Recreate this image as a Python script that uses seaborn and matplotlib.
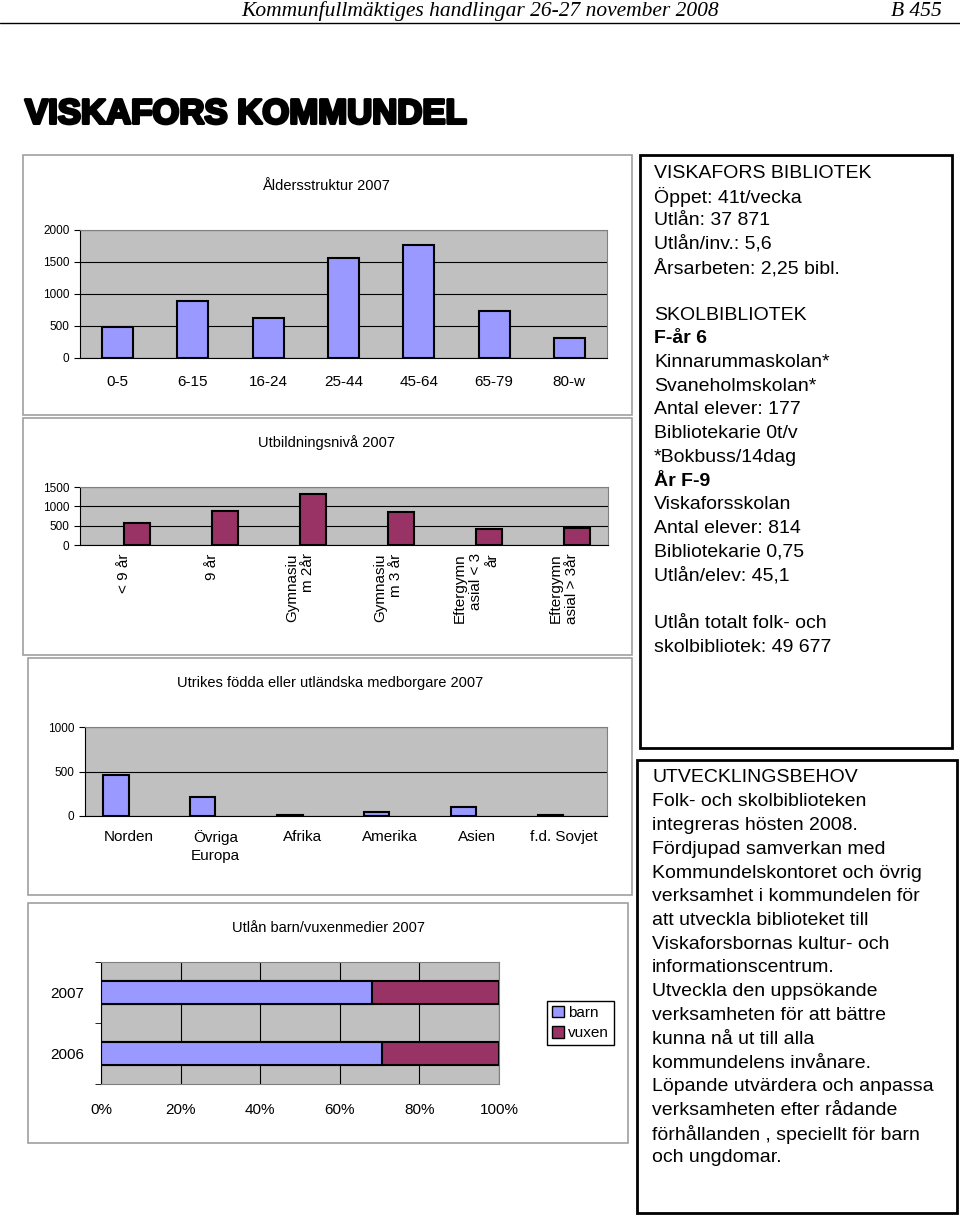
import numpy as np
import pandas as pd
import matplotlib
matplotlib.use("Agg")
import matplotlib.pyplot as plt
import matplotlib.patheffects as pe
from matplotlib.patches import Rectangle, Patch
from matplotlib.lines import Line2D
from matplotlib.ticker import PercentFormatter
import seaborn as sns

# ---- data ----
age_groups = ["0-5", "6-15", "16-24", "25-44", "45-64", "65-79", "80-w"]
age_counts = [480, 890, 630, 1560, 1770, 730, 310]

edu_levels = ["< 9 år", "9 år", "Gymnasiu\nm 2år", "Gymnasiu\nm 3 år",
              "Eftergymn\nasial < 3\når", "Eftergymn\nasial > 3år"]
edu_counts = [575, 875, 1325, 845, 425, 440]

origin_regions = ["Norden", "Övriga\nEuropa", "Afrika", "Amerika", "Asien", "f.d. Sovjet"]
origin_counts = [465, 210, 12, 40, 105, 12]

loan_years = ["2007", "2006"]
loan_barn = [68, 70.5]
loan_vuxen = [32, 29.5]

bibliotek_lines = [
    ("VISKAFORS BIBLIOTEK", "medium"),
    ("Öppet: 41t/vecka", "normal"),
    ("Utlån: 37 871", "normal"),
    ("Utlån/inv.: 5,6", "normal"),
    ("Årsarbeten: 2,25 bibl.", "normal"),
    ("", "normal"),
    ("SKOLBIBLIOTEK", "medium"),
    ("F-år 6", "bold"),
    ("Kinnarummaskolan*", "normal"),
    ("Svaneholmskolan*", "normal"),
    ("Antal elever: 177", "normal"),
    ("Bibliotekarie 0t/v", "normal"),
    ("*Bokbuss/14dag", "normal"),
    ("År F-9", "bold"),
    ("Viskaforsskolan", "normal"),
    ("Antal elever: 814", "normal"),
    ("Bibliotekarie 0,75", "normal"),
    ("Utlån/elev: 45,1", "normal"),
    ("", "normal"),
    ("Utlån totalt folk- och", "normal"),
    ("skolbibliotek: 49 677", "normal"),
]

behov_lines = [
    ("UTVECKLINGSBEHOV", "medium"),
    ("Folk- och skolbiblioteken", "normal"),
    ("integreras hösten 2008.", "normal"),
    ("Fördjupad samverkan med", "normal"),
    ("Kommundelskontoret och övrig", "normal"),
    ("verksamhet i kommundelen för", "normal"),
    ("att utveckla biblioteket till", "normal"),
    ("Viskaforsbornas kultur- och", "normal"),
    ("informationscentrum.", "normal"),
    ("Utveckla den uppsökande", "normal"),
    ("verksamheten för att bättre", "normal"),
    ("kunna nå ut till alla", "normal"),
    ("kommundelens invånare.", "normal"),
    ("Löpande utvärdera och anpassa", "normal"),
    ("verksamheten efter rådande", "normal"),
    ("förhållanden , speciellt för barn", "normal"),
    ("och ungdomar.", "normal"),
]

BLUE = "#9999FF"
MAROON = "#993366"
GRAY = "#C0C0C0"

sns.set_style("white")
plt.rcParams['font.family'] = ['Liberation Sans', 'DejaVu Sans']
plt.rcParams['text.color'] = 'black'
plt.rcParams['axes.labelcolor'] = 'black'
plt.rcParams['xtick.color'] = 'black'
plt.rcParams['ytick.color'] = 'black'

W, H = 960, 1218
fig = plt.figure(figsize=(9.6, 12.18), dpi=100)


def fx(x):
    return x / W


def fy(y):
    return 1 - y / H


def box(x0, y0, x1, y1):
    return [fx(x0), fy(y1), (x1 - x0) / W, (y1 - y0) / H]


def frame(x0, y0, x1, y1, color, lw):
    fig.add_artist(Rectangle((fx(x0), fy(y1)), (x1 - x0) / W, (y1 - y0) / H,
                             transform=fig.transFigure, fill=False,
                             edgecolor=color, lw=lw))


def excel_axes(ax, ymax, step, n):
    ax.set_facecolor(GRAY)
    ax.set_ylim(0, ymax)
    ax.set_yticks(np.arange(0, ymax + 1, step))
    ax.yaxis.grid(True, color="black", lw=0.8)
    ax.set_axisbelow(True)
    ax.set_xlim(-0.5, n - 0.5)
    ax.set_xticks(np.arange(-0.5, n, 1), minor=True)
    ax.tick_params(axis="x", which="major", length=0, labelsize=11, pad=10)
    ax.tick_params(axis="x", which="minor", length=4, direction="out", color="black")
    ax.tick_params(axis="y", length=4, direction="out", color="black", labelsize=8.5, left=True)
    for s in ["top", "right"]:
        ax.spines[s].set_color("#808080")
    for s in ["left", "bottom"]:
        ax.spines[s].set_color("black")
    ax.set_xlabel("")
    ax.set_ylabel("")


# ---- page header ----
fig.text(fx(480), fy(11), "Kommunfullmäktiges handlingar 26-27 november 2008",
         family="Liberation Serif", style="italic", fontsize=15.5, ha="center", va="center")
fig.text(fx(942), fy(11), "B 455", family="Liberation Serif", style="italic",
         fontsize=15.5, ha="right", va="center")
fig.add_artist(Line2D([0, 1], [fy(23), fy(23)], transform=fig.transFigure, color="black", lw=1))
fig.text(fx(25), fy(114), "VISKAFORS KOMMUNDEL",
         family=["Liberation Sans Narrow", "Liberation Sans"], weight="bold",
         fontsize=25, ha="left", va="center",
         path_effects=[pe.withStroke(linewidth=2.2, foreground="black")])

# ---- chart frames ----
frame(23, 155, 632, 415, "#A0A0A0", 1.2)
frame(23, 418, 632, 655, "#A0A0A0", 1.2)
frame(28, 658, 632, 895, "#A0A0A0", 1.2)
frame(28, 903, 628, 1143, "#A0A0A0", 1.2)

# ---- Åldersstruktur ----
fig.text(fx(326), fy(186), "Åldersstruktur 2007", fontsize=10.5, ha="center", va="center")
ax1 = fig.add_axes(box(80, 230, 607, 358))
age_df = pd.DataFrame({"alder": age_groups, "antal": age_counts})
sns.barplot(data=age_df, x="alder", y="antal", color=BLUE, saturation=1,
            width=0.41, edgecolor="black", linewidth=1.5, ax=ax1)
excel_axes(ax1, 2000, 500, len(age_groups))
ax1.tick_params(axis="x", which="major", pad=12)

# ---- Utbildningsnivå ----
fig.text(fx(326), fy(443), "Utbildningsnivå 2007", fontsize=10.5, ha="center", va="center")
ax2 = fig.add_axes(box(80, 487, 608, 545))
edu_df = pd.DataFrame({"niva": edu_levels, "antal": edu_counts, "serie": "2007"})
sns.barplot(data=edu_df, x="niva", y="antal", hue="serie", hue_order=["_tom", "2007"],
            palette={"_tom": BLUE, "2007": MAROON}, dodge=True, saturation=1,
            width=0.58, edgecolor="black", linewidth=1.5, legend=False, ax=ax2)
excel_axes(ax2, 1500, 500, len(edu_levels))
ax2.tick_params(axis="x", which="major", pad=6)
for lbl in ax2.get_xticklabels():
    lbl.set_rotation(90)
    lbl.set_ha("center")
    lbl.set_va("top")
    lbl.set_multialignment("right")

# ---- Utrikes födda ----
fig.text(fx(330), fy(683), "Utrikes födda eller utländska medborgare 2007",
         fontsize=10.5, ha="center", va="center")
ax3 = fig.add_axes(box(85, 727, 607, 816))
origin_df = pd.DataFrame({"region": origin_regions, "antal": origin_counts, "serie": "2007"})
sns.barplot(data=origin_df, x="region", y="antal", hue="serie", hue_order=["2007", "_tom"],
            palette={"2007": BLUE, "_tom": MAROON}, dodge=True, saturation=1,
            width=0.58, edgecolor="black", linewidth=1.5, legend=False, ax=ax3)
excel_axes(ax3, 1000, 500, len(origin_regions))
for lbl in ax3.get_xticklabels():
    lbl.set_linespacing(1.35)

# ---- Utlån barn/vuxen ----
fig.text(fx(329), fy(928), "Utlån barn/vuxenmedier 2007", fontsize=10.5, ha="center", va="center")
ax4 = fig.add_axes(box(101, 962, 499, 1084))
loan_df = pd.DataFrame({"ar": loan_years, "barn": loan_barn, "vuxen": loan_vuxen})
loan_df["total"] = loan_df["barn"] + loan_df["vuxen"]
sns.barplot(data=loan_df, x="total", y="ar", color=MAROON, saturation=1, orient="h",
            width=0.39, edgecolor="black", linewidth=1.5, ax=ax4)
sns.barplot(data=loan_df, x="barn", y="ar", color=BLUE, saturation=1, orient="h",
            width=0.39, edgecolor="black", linewidth=1.5, ax=ax4)
ax4.set_facecolor(GRAY)
ax4.set_xlim(0, 100)
ax4.set_xticks(np.arange(0, 101, 20))
ax4.xaxis.set_major_formatter(PercentFormatter(xmax=100, decimals=0))
ax4.xaxis.grid(True, color="black", lw=0.8)
ax4.set_axisbelow(True)
ax4.set_ylim(1.5, -0.5)
ax4.set_yticks(np.arange(-0.5, 2, 1), minor=True)
ax4.tick_params(axis="y", which="major", length=0, labelsize=11, pad=12)
ax4.tick_params(axis="y", which="minor", length=4, direction="out", color="black", left=True)
ax4.tick_params(axis="x", length=0, labelsize=11, pad=14)
ax4.spines["left"].set_color("black")
ax4.spines["bottom"].set_color("#808080")
ax4.spines["top"].set_color("#808080")
ax4.spines["right"].set_color("#808080")
ax4.set_xlabel("")
ax4.set_ylabel("")
ax4.legend(handles=[Patch(facecolor=BLUE, edgecolor="black", label="barn"),
                    Patch(facecolor=MAROON, edgecolor="black", label="vuxen")],
           loc="center left", bbox_to_anchor=(fx(547), fy(1023)), bbox_transform=fig.transFigure,
           fancybox=False, edgecolor="black", framealpha=1, fontsize=11,
           handlelength=0.8, handleheight=0.8, handletextpad=0.3,
           borderpad=0.3, labelspacing=0.4, borderaxespad=0)

# ---- text boxes ----
frame(640, 155, 952, 748, "black", 2)
for i, (line, weight) in enumerate(bibliotek_lines):
    fig.text(fx(654), fy(173 + i * 23.7), line, fontsize=14, weight=weight,
             ha="left", va="center")

frame(637, 760, 957, 1213, "black", 2)
for i, (line, weight) in enumerate(behov_lines):
    fig.text(fx(652), fy(778 + i * 23.75), line, fontsize=14, weight=weight,
             ha="left", va="center")

fig.savefig("out.png", dpi=100)
